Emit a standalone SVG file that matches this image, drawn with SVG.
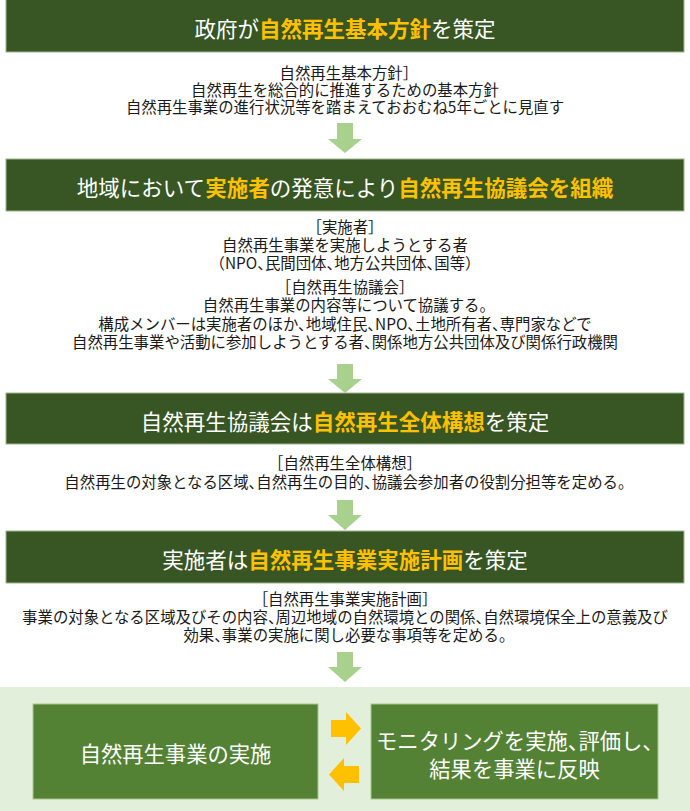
<svg xmlns="http://www.w3.org/2000/svg" width="690" height="811" viewBox="0 0 690 811">
<style>
.hdr{fill:#375623;stroke:#9fb58c;stroke-width:1}
.ht{font-family:"Noto Sans CJK JP","Noto Sans",sans-serif;font-size:21.5px;fill:#ffffff;text-anchor:middle;dominant-baseline:central}
.hl{fill:#ffc000;font-weight:bold}
.bt{font-family:"Noto Sans CJK JP","Noto Sans",sans-serif;font-size:15.4px;fill:#1a1a1a;text-anchor:middle;dominant-baseline:central;font-feature-settings:"halt"}
.ga{fill:#a9d18e}
.oa{fill:#ffc000}
.bx{fill:#548235;stroke:#a9c58f;stroke-width:1}
.bxt{font-family:"Noto Sans CJK JP","Noto Sans",sans-serif;font-size:21.3px;fill:#ffffff;text-anchor:middle;dominant-baseline:central;font-feature-settings:"halt"}
</style>
<rect x="0" y="0" width="690" height="811" fill="#ffffff"/>
<rect x="0" y="687" width="690" height="124" fill="#e2efda"/>

<g id="header1">
<rect class="hdr" x="6" y="-1" width="678" height="53"/>
<text class="ht" x="345" y="27">政府が<tspan class="hl">自然再生基本方針</tspan>を策定</text>
</g>
<g id="desc1">
<text class="bt" x="345" y="72">自然再生基本方針］</text>
<text class="bt" x="345" y="89">自然再生を総合的に推進するための基本方針</text>
<text class="bt" x="345" y="106">自然再生事業の進行状況等を踏まえておおむね5年ごとに見直す</text>
</g>

<g id="header2">
<rect class="hdr" x="6" y="159" width="678" height="52"/>
<text class="ht" x="345" y="186">地域において<tspan class="hl">実施者</tspan>の発意により<tspan class="hl">自然再生協議会を組織</tspan></text>
</g>
<g id="desc2">
<text class="bt" x="345" y="226">［実施者］</text>
<text class="bt" x="345" y="244">自然再生事業を実施しようとする者</text>
<text class="bt" x="345" y="262">（NPO、民間団体、地方公共団体、国等）</text>
<text class="bt" x="345" y="286">［自然再生協議会］</text>
<text class="bt" x="345" y="304">自然再生事業の内容等について協議する。</text>
<text class="bt" x="345" y="323">構成メンバーは実施者のほか、地域住民、NPO、土地所有者、専門家などで</text>
<text class="bt" x="345" y="341">自然再生事業や活動に参加しようとする者、関係地方公共団体及び関係行政機関</text>
</g>

<g id="header3">
<rect class="hdr" x="6" y="393" width="678" height="51"/>
<text class="ht" x="345" y="420">自然再生協議会は<tspan class="hl">自然再生全体構想</tspan>を策定</text>
</g>
<g id="desc3">
<text class="bt" x="345" y="462">［自然再生全体構想］</text>
<text class="bt" x="345" y="481">自然再生の対象となる区域、自然再生の目的、協議会参加者の役割分担等を定める。</text>
</g>

<g id="header4">
<rect class="hdr" x="6" y="531" width="678" height="52"/>
<text class="ht" x="345" y="558">実施者は<tspan class="hl">自然再生事業実施計画</tspan>を策定</text>
</g>
<g id="desc4">
<text class="bt" x="345" y="598">［自然再生事業実施計画］</text>
<text class="bt" x="345" y="616">事業の対象となる区域及びその内容、周辺地域の自然環境との関係、自然環境保全上の意義及び</text>
<text class="bt" x="345" y="634">効果、事業の実施に関し必要な事項等を定める。</text>
</g>

<g id="implementation">
<rect class="bx" x="33" y="704" width="285" height="95"/>
<text class="bxt" x="175.5" y="752">自然再生事業の実施</text>
</g>
<g id="monitoring">
<rect class="bx" x="371" y="704" width="287" height="95"/>
<text class="bxt" x="514.5" y="739">モニタリングを実施、評価し、</text>
<text class="bxt" x="514.5" y="767">結果を事業に反映</text>
</g>

<g id="connectors">
<polygon class="ga" points="337,123 353,123 353,139 362,139 345,153 328,139 337,139"/>
<polygon class="ga" points="337,364 353,364 353,379 362,379 345,393 328,379 337,379"/>
<polygon class="ga" points="337,500 353,500 353,515 362,515 345,530 328,515 337,515"/>
<polygon class="ga" points="337,652 353,652 353,667 362,667 345,682 328,667 337,667"/>
<polygon class="oa" points="331,720 346,720 346,712 361,728.5 346,745 346,737 331,737"/>
<polygon class="oa" points="359,766 344,766 344,758 329,774.5 344,791 344,783 359,783"/>
</g>
</svg>
